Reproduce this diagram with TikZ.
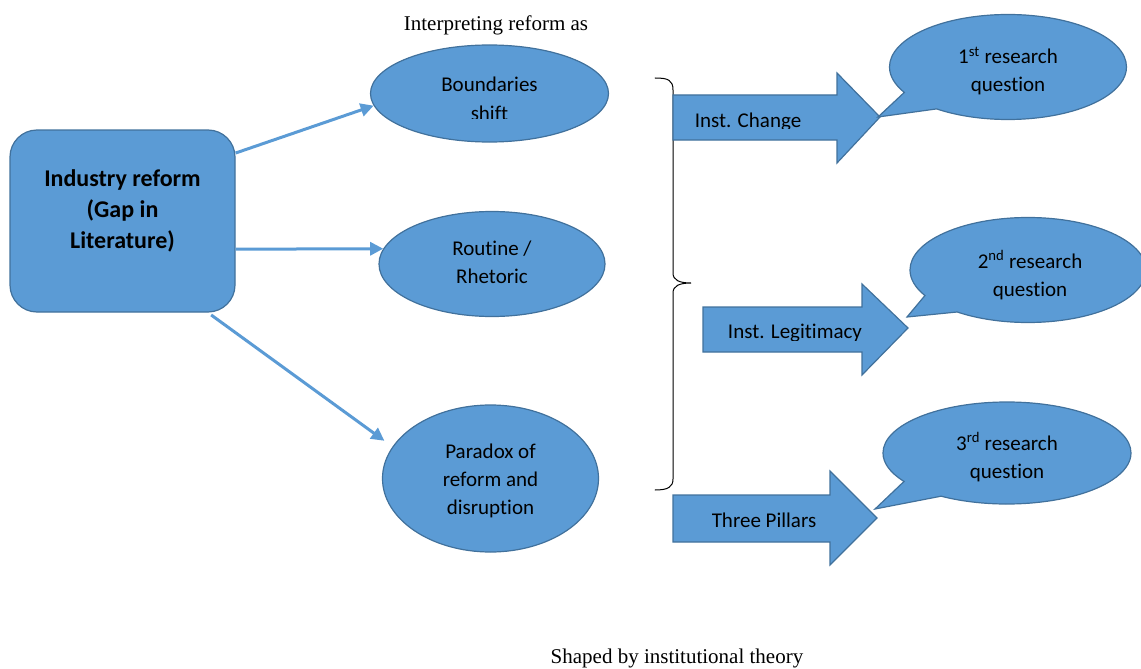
\documentclass[tikz,border=0pt]{standalone}
\usepackage{fontspec}
\setmainfont{Liberation Serif}
\newfontfamily\labelfont[Ligatures=NoCommon]{Carlito}
\usetikzlibrary{shapes.geometric,shapes.callouts,arrows.meta}
\definecolor{fillblue}{HTML}{5B9BD5}
\definecolor{edgeblue}{HTML}{41719C}
\begin{document}
\begin{tikzpicture}[x=1pt,y=-1pt,
  blob/.style={fill=fillblue,draw=edgeblue,line width=1.2pt},
  txt/.style={font=\labelfont\fontsize{21}{28}\selectfont,align=center,inner sep=0pt},
  oval/.style={blob,ellipse,inner sep=0pt},
  bubble/.style={blob,ellipse callout,inner sep=0pt,callout pointer arc=24},
  banner/.style={blob,line join=miter},
  link/.style={draw=fillblue,line width=3pt,-{Triangle[length=13pt,width=13pt]}},
  caption/.style={font=\fontsize{21}{24}\selectfont,inner sep=0pt}]
\useasboundingbox (0,0) rectangle (1141,669);

% headings
\node[caption] (top) at (496,25) {Interpreting reform as};
\node[caption] (bottom) at (677,658) {Shaped by institutional theory};

% starting block
\node[blob,rectangle,rounded corners=27pt,minimum width=225,minimum height=182,inner sep=0pt] (box) at (122.5,221) {};
\node[font=\labelfont\bfseries\fontsize{24}{31}\selectfont,align=center,inner sep=0pt] (boxtext) at (122.5,211) {Industry reform\\(Gap in\\Literature)};

% readings of the reform
\node[oval,minimum width=238,minimum height=97] (b1) at (489.5,93.5) {};
\begin{scope}
  \clip (380,60) rectangle (600,118.5);
  \node[txt,font=\labelfont\fontsize{21}{29}\selectfont] (b1text) at (489.5,98.5) {Boundaries\\shift};
\end{scope}
\node[oval,minimum width=226,minimum height=105] (b2) at (492,264) {};
\node[txt] (b2text) at (492,262) {Routine /\\Rhetoric};
\node[oval,minimum width=216,minimum height=147] (b3) at (490.5,478.5) {};
\node[txt] (b3text) at (490.5,481) {Paradox of\\reform and\\disruption};

\draw[link] (box.31.5) -- (b1.186);
\draw[link] (box.-14.5) -- (b2.172);
\draw[link,shorten <=4pt,shorten >=10pt] (box.-47.4) -- (b3.162);

% brace grouping the readings
\draw[line width=1pt,line cap=round] (655,78) .. controls (668,78) and (673,80) .. (673,90)
  -- (673,273) .. controls (673,280) and (679,283) .. (691,283)
  .. controls (679,283) and (673,286) .. (673,293)
  -- (673,479) .. controls (673,487) and (668,490) .. (655,490);

% theoretical lenses
\draw[banner] (673,95) -- (837,95) -- (837,73) -- (880,117) -- (837,163) -- (837,140) -- (673,140) -- cycle;
\begin{scope}
  \clip (680,100) rectangle (830,128.5);
  \node[txt,anchor=base] (l1) at (748,127) {Inst. Change};
\end{scope}
\draw[banner] (703,307) -- (862,307) -- (862,284) -- (908,328) -- (862,375) -- (862,352) -- (703,352) -- cycle;
\begin{scope}
  \clip (705,310) rectangle (870,340);
  \node[txt,anchor=base] (l2) at (795,338) {Inst. Legitimacy};
\end{scope}
\draw[banner] (673,495) -- (830,495) -- (830,471) -- (877,518) -- (830,565) -- (830,542) -- (673,542) -- cycle;
\node[txt,anchor=base] (l3) at (764,527) {Three Pillars};

% research questions
\node[bubble,minimum width=237,minimum height=105,callout absolute pointer={(878,117)}] (q1) at (1008,67) {};
\node[txt] (q1text) at (1008,71) {1\textsuperscript{st} research\\question};
\node[bubble,minimum width=236,minimum height=105,callout absolute pointer={(907,317)}] (q2) at (1028,270) {};
\node[txt] (q2text) at (1030,275) {2\textsuperscript{nd} research\\question};
\node[bubble,minimum width=248,minimum height=102,callout absolute pointer={(875,509)}] (q3) at (1007,453) {};
\node[txt] (q3text) at (1007,457) {3\textsuperscript{rd} research\\question};
\end{tikzpicture}
\end{document}
